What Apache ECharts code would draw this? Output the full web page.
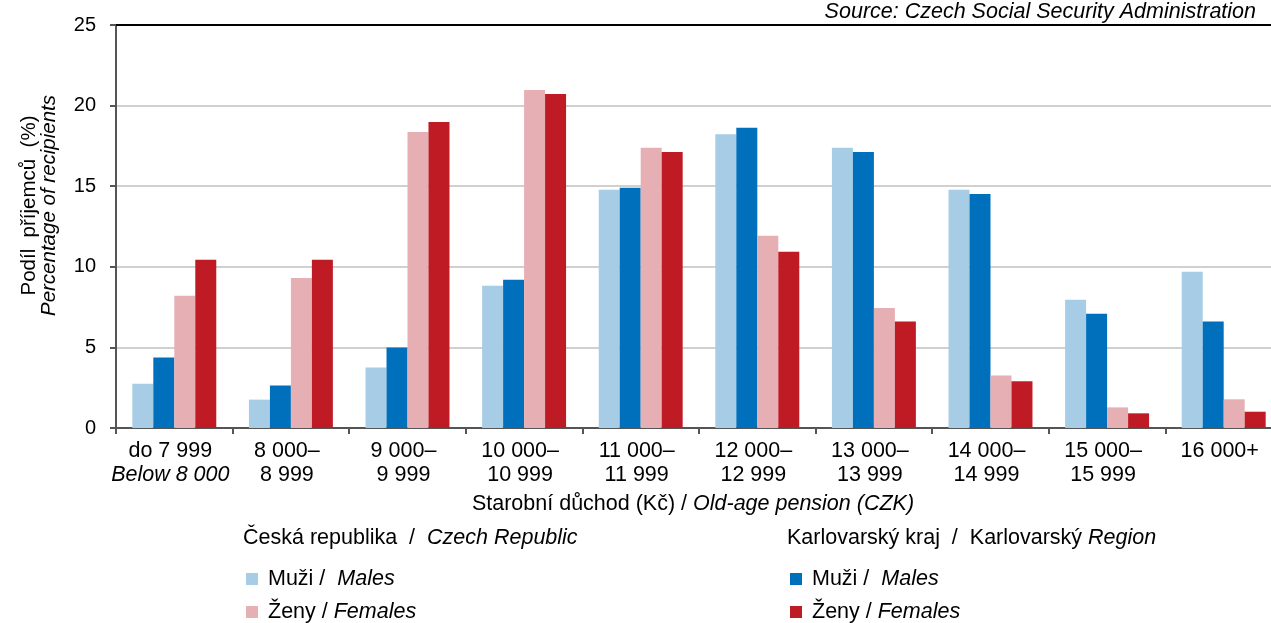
<!DOCTYPE html>
<html>
<head>
<meta charset="utf-8">
<script src="https://cdn.jsdelivr.net/npm/echarts@6/dist/echarts.min.js"></script>
<style>html,body{margin:0;padding:0;background:#fff;}#c{width:1271px;height:623px;}</style>
</head>
<body>
<div id="c"></div>
<script>
const categories = ['do 7 999\n{i|Below 8 000}', '8 000–\n8 999', '9 000–\n9 999', '10 000–\n10 999', '11 000–\n11 999', '12 000–\n12 999', '13 000–\n13 999', '14 000–\n14 999', '15 000–\n15 999', '16 000+'];
const crMales   = [2.75, 1.76, 3.75, 8.82, 14.78, 18.23, 17.38, 14.78, 7.95, 9.69];
const kkMales   = [4.37, 2.63, 4.99, 9.19, 14.90, 18.63, 17.12, 14.51, 7.08, 6.60];
const crFemales = [8.20, 9.31, 18.36, 20.96, 17.38, 11.92, 7.45, 3.25, 1.28, 1.78];
const kkFemales = [10.43, 10.43, 18.98, 20.72, 17.12, 10.93, 6.60, 2.90, 0.91, 1.01];
const yTicks = [0, 5, 10, 15, 20, 25];

const FONT = 'Liberation Sans';
const FS = 21.5;
const legendNames = {
  'CR_M': 'Muži /  {i|Males}',
  'CR_F': 'Ženy / {i|Females}',
  'KK_M': 'Muži /  {i|Males}',
  'KK_F': 'Ženy / {i|Females}'
};
const italic = {i: {fontStyle: 'italic', fontFamily: FONT, fontSize: FS, color: '#000'}};
const legendItalic = {i: {fontStyle: 'italic', fontFamily: FONT, fontSize: FS, color: '#000', lineHeight: 20}};

const chart = echarts.init(document.getElementById('c'), null, {renderer: 'canvas'});
function legendOne(name, left, top) {
  return {
    data: [name], left: left, top: top, orient: 'horizontal',
    itemWidth: 12, itemHeight: 12, padding: 0, icon: 'rect', formatter: n => legendNames[n],
    textStyle: {fontFamily: FONT, fontSize: FS, color: '#000', lineHeight: 20, padding: [0, 0, 0, 5], rich: legendItalic}
  };
}
const option = {
  animation: false,
  backgroundColor: '#fff',
  textStyle: {fontFamily: FONT},
  title: [
    {text: 'Source: Czech Social Security Administration', right: 15, top: 0, padding: 0,
     textStyle: {fontFamily: FONT, fontSize: FS, fontStyle: 'italic', fontWeight: 'normal', color: '#000', lineHeight: 24}},
    {text: 'Česká republika  /  {i|Czech Republic}', left: 243, top: 526, padding: 0,
     textStyle: {fontFamily: FONT, fontSize: FS, fontWeight: 'normal', color: '#000', lineHeight: 24, rich: italic}},
    {text: 'Karlovarský kraj  /  Karlovarský {i|Region}', left: 787, top: 526, padding: 0,
     textStyle: {fontFamily: FONT, fontSize: FS, fontWeight: 'normal', color: '#000', lineHeight: 24, rich: italic}}
  ],
  legend: [
    legendOne('CR_M', 246, 568),
    legendOne('CR_F', 246, 601),
    legendOne('KK_M', 790, 568),
    legendOne('KK_F', 790, 601)
  ],
  grid: {left: 116, top: 25, width: 1166, height: 403, outerBoundsMode: 'none', containLabel: false},
  xAxis: [
    {type: 'category', data: categories,
     axisLine: {lineStyle: {color: '#555', width: 2}},
     axisTick: {show: true, length: 6, lineStyle: {color: '#555', width: 2}},
     axisLabel: {fontFamily: FONT, fontSize: FS, color: '#000', lineHeight: 24, margin: 11, interval: 0,
       padding: [0, 8, 0, 0],
       rich: {i: {fontStyle: 'italic', fontFamily: FONT, fontSize: FS, color: '#000', lineHeight: 24}}},
     name: 'Starobní důchod (Kč) / {i|Old-age pension (CZK)}', nameLocation: 'middle', nameGap: 54,
     nameTextStyle: {fontFamily: FONT, fontSize: FS, color: '#000', lineHeight: 24, padding: [0, 12, 0, 0],
       rich: {i: {fontStyle: 'italic', fontFamily: FONT, fontSize: FS, color: '#000', lineHeight: 24}}}},
    {type: 'category', data: categories, position: 'top',
     axisLine: {lineStyle: {color: '#000', width: 2}},
     axisTick: {show: false}, axisLabel: {show: false}}
  ],
  yAxis: {
    type: 'value', min: 0, max: 25, interval: 5,
    axisLine: {show: true, lineStyle: {color: '#555', width: 2}},
    axisTick: {show: true, length: 6, lineStyle: {color: '#555', width: 2}},
    splitLine: {lineStyle: {color: '#c0c0c0', width: 1.5}},
    axisLabel: {fontFamily: FONT, fontSize: 20, color: '#000', margin: 20,
      formatter: v => yTicks.includes(v) ? String(v) : ''},
    name: 'Podíl  příjemců  (%)\n{i|Percentage of recipients}', nameLocation: 'middle', nameGap: 57,
    nameTextStyle: {fontFamily: FONT, fontSize: 20.5, color: '#000', lineHeight: 20, padding: [0, 0, 0, 42],
      rich: {i: {fontStyle: 'italic', fontFamily: FONT, fontSize: 20.5, color: '#000', lineHeight: 20}}}
  },
  series: [
    {name: 'CR_M', type: 'bar', data: crMales, itemStyle: {color: '#a6cce6'}, barGap: '0%', barCategoryGap: '28%'},
    {name: 'KK_M', type: 'bar', data: kkMales, itemStyle: {color: '#0070bc'}},
    {name: 'CR_F', type: 'bar', data: crFemales, itemStyle: {color: '#e6afb3'}},
    {name: 'KK_F', type: 'bar', data: kkFemales, itemStyle: {color: '#be1b24'}}
  ]
};
chart.setOption(option);
</script>
</body>
</html>
